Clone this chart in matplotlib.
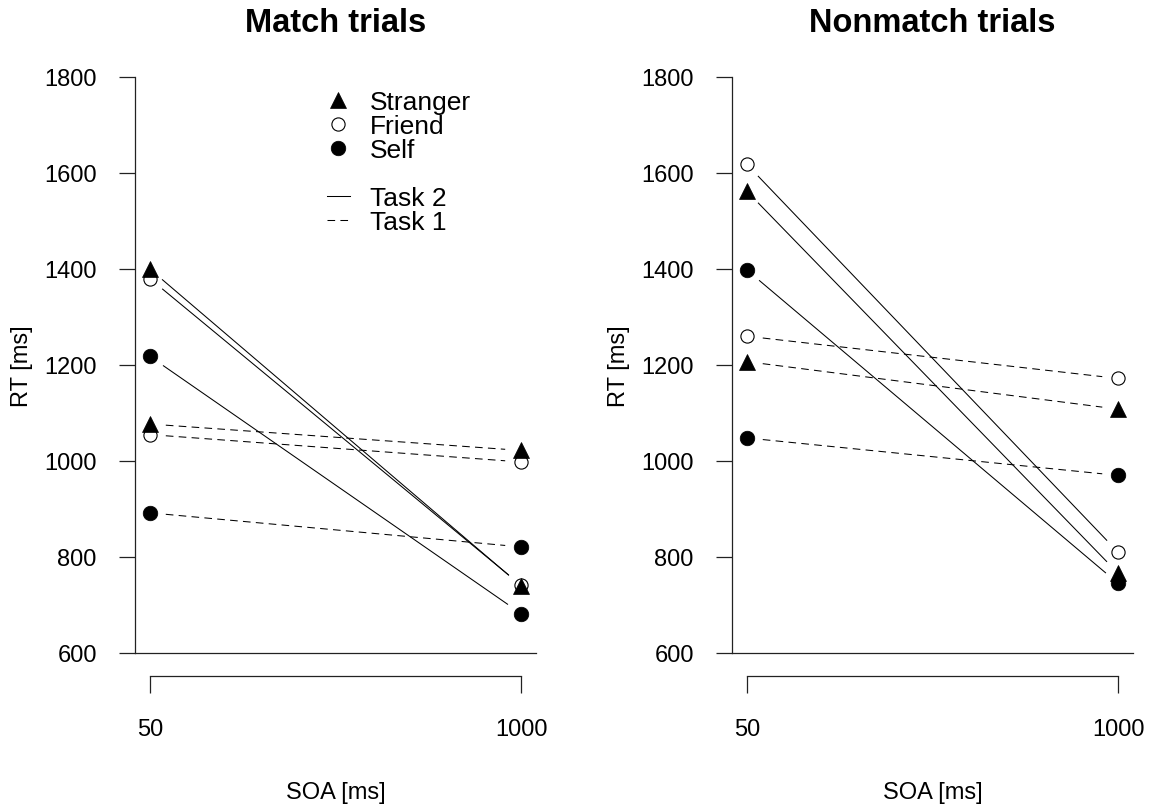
import matplotlib
matplotlib.use("Agg")
import matplotlib.pyplot as plt
import numpy as np
from matplotlib.lines import Line2D

plt.rcParams['font.family'] = ['Liberation Sans', 'DejaVu Sans']
plt.rcParams['lines.scale_dashes'] = False

# ---- data ----
soa = [50, 1000]
groups = ["Stranger", "Friend", "Self"]
panel_titles = ["Match trials", "Nonmatch trials"]

match_task2 = {"Stranger": [1400, 740], "Friend": [1380, 741], "Self": [1218, 682]}
match_task1 = {"Stranger": [1077, 1022], "Friend": [1055, 998], "Self": [892, 821]}
nonmatch_task2 = {"Stranger": [1562, 766], "Friend": [1618, 810], "Self": [1398, 745]}
nonmatch_task1 = {"Stranger": [1207, 1108], "Friend": [1260, 1172], "Self": [1048, 970]}

y_ticks = [600, 800, 1000, 1200, 1400, 1600, 1800]

# ---- styles ----
W, H = 1153, 812
DPI = 100
marker_style = {
    "Stranger": dict(marker='^', markersize=11.5, markerfacecolor='black', markeredgecolor='black', markeredgewidth=0.5),
    "Friend": dict(marker='o', markersize=9.5, markerfacecolor='none', markeredgecolor='black', markeredgewidth=0.8),
    "Self": dict(marker='o', markersize=10.5, markerfacecolor='black', markeredgecolor='black', markeredgewidth=0.5),
}
task_ls = {"Task 2": '-', "Task 1": (0, (5.5, 3.8))}
draw_order = ["Friend", "Self", "Stranger"]
GAP = 16  # pixels gap between point and line (R type="b")

fig = plt.figure(figsize=(W / DPI, H / DPI), dpi=DPI)

ax_w, ax_h = 401 / W, 576 / H
bottom = (H - 654) / H
lefts = [135 / W, 732 / W]
FS = 17

def gapped(ax, xs, ys):
    p0 = ax.transData.transform((xs[0], ys[0]))
    p1 = ax.transData.transform((xs[1], ys[1]))
    d = p1 - p0
    d = d / np.hypot(*d)
    q0 = ax.transData.inverted().transform(p0 + d * GAP)
    q1 = ax.transData.inverted().transform(p1 - d * GAP)
    return [q0[0], q1[0]], [q0[1], q1[1]]

panels = [(match_task2, match_task1), (nonmatch_task2, nonmatch_task1)]
axes = []
for i, (t2, t1) in enumerate(panels):
    ax = fig.add_axes([lefts[i], bottom, ax_w, ax_h])
    axes.append(ax)
    rng = soa[1] - soa[0]
    ax.set_xlim(soa[0] - 0.04 * rng, soa[1] + 0.04 * rng)
    ax.set_ylim(600, 1800)

    for data, ls in ((t2, task_ls["Task 2"]), (t1, task_ls["Task 1"])):
        for g in groups:
            gx, gy = gapped(ax, soa, data[g])
            ax.plot(gx, gy, color='black', lw=0.75, linestyle=ls, solid_capstyle='butt')
    for data in (t2, t1):
        for g in draw_order:
            ax.plot(soa, data[g], linestyle='none', **marker_style[g])

    # frame: left + bottom
    ax.spines['top'].set_visible(False)
    ax.spines['right'].set_visible(False)
    for s in ('left', 'bottom'):
        ax.spines[s].set_linewidth(0.9)
        ax.spines[s].set_color('#222222')
    ax.set_xticks([])
    ax.set_yticks(y_ticks)
    ax.tick_params(axis='y', direction='out', length=11.5, width=0.9, color='#222222',
                   labelsize=FS, pad=16)
    ax.set_ylabel("RT [ms]", fontsize=FS)
    ax.yaxis.set_label_coords(-0.255, 0.5)

    sec = ax.secondary_xaxis(-23 / 576)
    sec.set_xticks(soa)
    sec.set_xticklabels([str(s) for s in soa])
    sec.spines['bottom'].set_bounds(soa[0], soa[1])
    sec.spines['bottom'].set_linewidth(0.9)
    sec.spines['bottom'].set_color('#222222')
    sec.tick_params(axis='x', direction='out', length=12, width=0.9, color='#222222',
                    labelsize=FS, pad=18)
    sec.set_xlabel("SOA [ms]", fontsize=FS, labelpad=30)

    ax.text(0.5, 1 + (78 - 24) / 576, panel_titles[i], transform=ax.transAxes,
            ha='center', va='center', fontsize=23.5, fontweight='bold')

# legend in left panel
handles = [
    Line2D([], [], linestyle='none', **marker_style["Stranger"]),
    Line2D([], [], linestyle='none', **marker_style["Friend"]),
    Line2D([], [], linestyle='none', **marker_style["Self"]),
    Line2D([], [], linestyle='none'),
    Line2D([], [], color='black', lw=0.75, linestyle=task_ls["Task 2"]),
    Line2D([], [], color='black', lw=0.75, linestyle=task_ls["Task 1"]),
]
labels = ["Stranger", "Friend", "Self", " ", "Task 2", "Task 1"]
axes[0].legend(handles, labels, loc='upper left',
               bbox_to_anchor=((327 - 135) / 401, 1 - (91 - 78) / 576),
               frameon=False, fontsize=19, borderpad=0, borderaxespad=0,
               handlelength=0.87, handletextpad=0.75, labelspacing=0.0)

fig.savefig("out.png", dpi=DPI)
